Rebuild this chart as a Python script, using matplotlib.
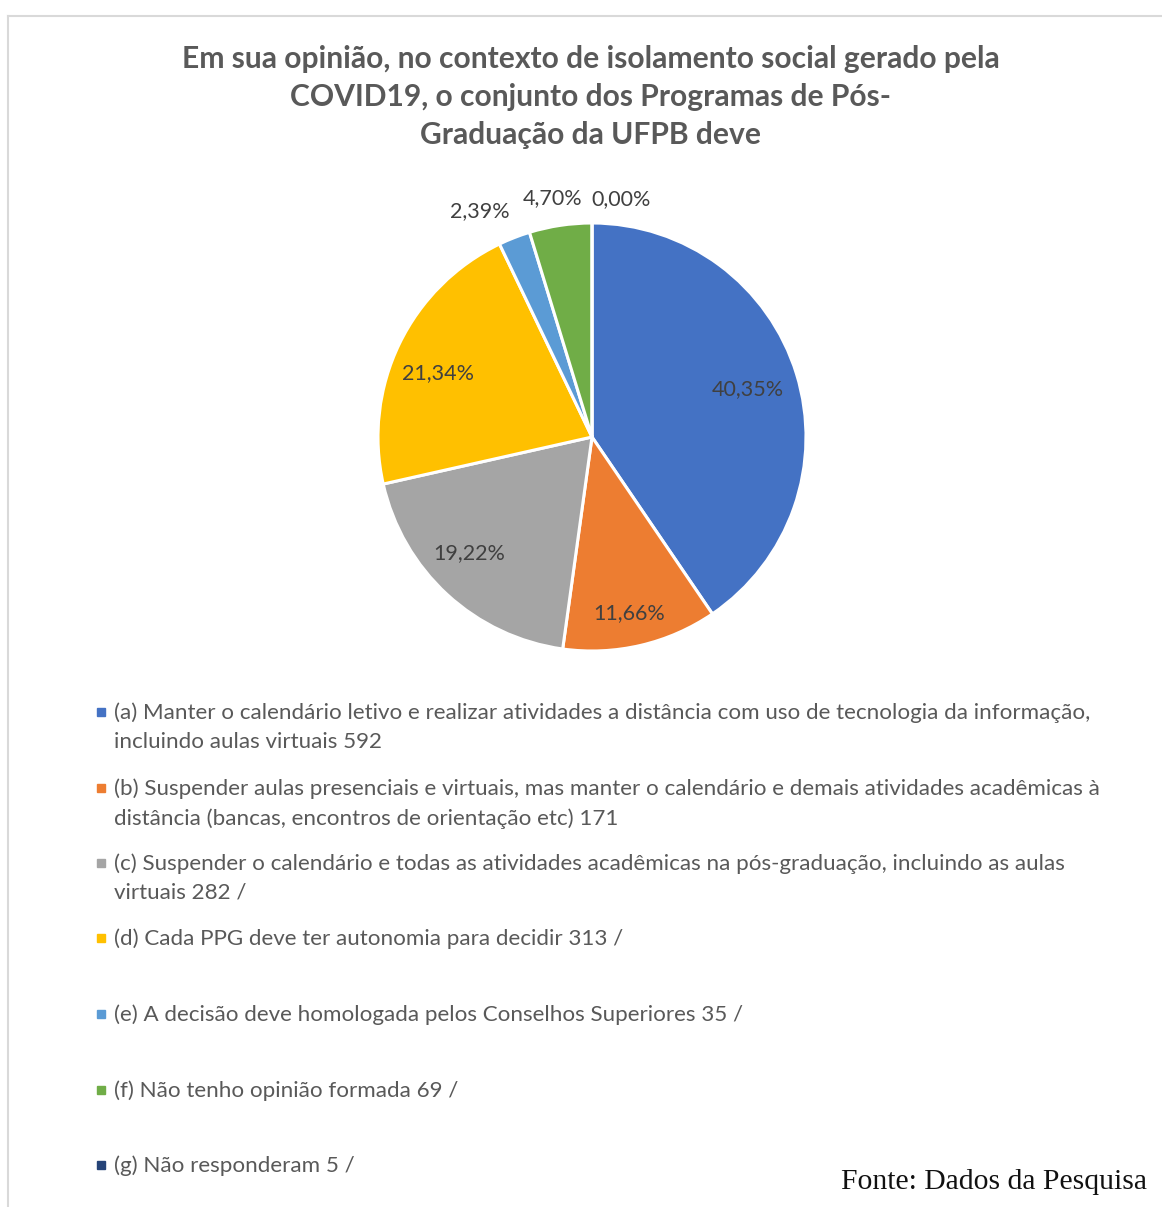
import matplotlib
matplotlib.use('Agg')
import matplotlib.pyplot as plt
from matplotlib.lines import Line2D
from matplotlib.patches import Rectangle
import numpy as np

W, H = 1162, 1207

title = "Em sua opinião, no contexto de isolamento social gerado pela\nCOVID19, o conjunto dos Programas de Pós-\nGraduação da UFPB deve"
shares = [40.35, 11.66, 19.22, 21.34, 2.39, 4.70, 0.00]
share_labels = ["40,35%", "11,66%", "19,22%", "21,34%", "2,39%", "4,70%", "0,00%"]
items = [
    "(a) Manter o calendário letivo e realizar atividades a distância com uso de tecnologia da informação,\nincluindo aulas virtuais 592",
    "(b) Suspender aulas presenciais e virtuais, mas manter o calendário e demais atividades acadêmicas à\ndistância (bancas, encontros de orientação etc) 171",
    "(c) Suspender o calendário e todas as atividades acadêmicas na pós-graduação, incluindo as aulas\nvirtuais 282 /",
    "(d) Cada PPG deve ter autonomia para decidir 313 /",
    "(e) A decisão deve homologada pelos Conselhos Superiores 35 /",
    "(f) Não tenho opinião formada 69 /",
    "(g) Não responderam 5 /",
]
colors = ["#4472C4", "#ED7D31", "#A5A5A5", "#FFC000", "#5B9BD5", "#70AD47", "#264478"]
source = "Fonte: Dados da Pesquisa"

plt.rcParams['font.family'] = ['Lato', 'DejaVu Sans']


def fx(x):
    return x / W


def fy(y):
    return 1 - y / H


fig = plt.figure(figsize=(W / 100, H / 100), dpi=100)

# chart frame (only top and left visible)
fig.add_artist(Line2D([fx(8), fx(W)], [fy(16), fy(16)], color="#d9d9d9", lw=1.5))
fig.add_artist(Line2D([fx(8), fx(8)], [fy(16), fy(H)], color="#d9d9d9", lw=1.5))

fig.text(fx(591), fy(97), title, ha="center", va="center", fontsize=21.6,
         fontweight="bold", color="#595959", linespacing=1.44)

cx, cy, r = 592, 437, 214
ax = fig.add_axes([fx(cx - r), fy(cy + r), 2 * r / W, 2 * r / H])
wedges, _ = ax.pie(shares, colors=colors, startangle=90, counterclock=False,
                   wedgeprops=dict(edgecolor="white", linewidth=2.2))
ax.set_xlim(-1, 1)
ax.set_ylim(-1, 1)

# data label placement: (angle offset in degrees, distance from centre)
label_pos = [(0, 0.76), (-1.3, 0.84), (-4, 0.79), (3.3, 0.78),
             (5, 1.18), (1, 1.13), (-7, 1.12)]
for w, lab, (da, dist) in zip(wedges, share_labels, label_pos):
    mid = np.deg2rad((w.theta1 + w.theta2) / 2 + da)
    ax.text(dist * np.cos(mid), dist * np.sin(mid), lab,
            ha="center", va="center", fontsize=15.5, color="#404040")

# legend
ys = [712, 788, 863, 938, 1014, 1090, 1165]
for y, lab, c in zip(ys, items, colors):
    fig.add_artist(Rectangle((fx(97), fy(y + 4)), 8 / W, 8 / H, color=c))
    fig.text(fx(114), fy(y - 10), lab, ha="left", va="top", fontsize=16.1,
             color="#595959", linespacing=1.58)

fig.text(fx(1147), fy(1182), source, ha="right", va="center", fontsize=21.3,
         family="Liberation Serif", color="#111111")

fig.savefig("out.png", dpi=100)
